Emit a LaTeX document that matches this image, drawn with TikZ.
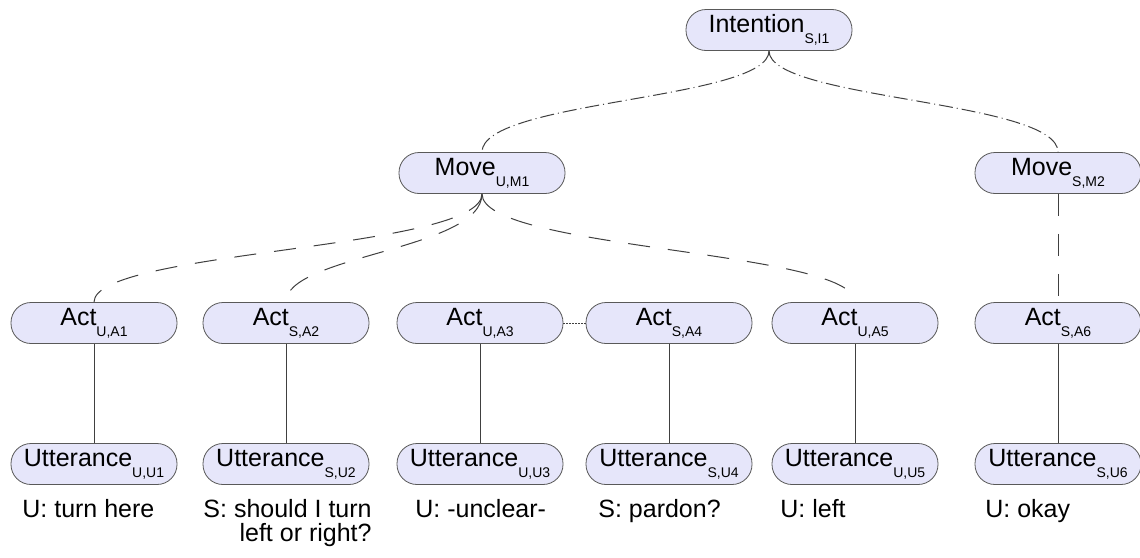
\documentclass[tikz,border=0pt]{standalone}
\usepackage{fontspec}
\setmainfont{Liberation Sans}
\usepackage{tikz}
\definecolor{lav}{RGB}{230,230,250}
\newcommand{\idx}[1]{\raisebox{-5.5pt}{\fontsize{7}{7}\selectfont #1}}

\begin{document}
\begin{tikzpicture}[x=0.5pt,y=-0.5pt,
  blob/.style={draw=black!65,fill=lav,rounded corners=10pt,minimum width=83pt,minimum height=20.5pt,inner sep=0pt,font=\fontsize{12.5}{14}\selectfont},
  talk/.style={anchor=north west,inner sep=0pt,font=\fontsize{12.5}{12}\selectfont},
  link/.style={draw=black!75,line width=0.5pt},
  ddot/.style={link,dash pattern=on 7pt off 2pt on 0.5pt off 2pt},
  lng/.style={link,dash pattern=on 11pt off 9pt}]
\useasboundingbox (0,0) rectangle (1140,557);
\node [blob] (i) at (769,30) {Intention\idx{S,I1}};
\node [blob] (m1) at (482,173) {Move\idx{U,M1}};
\node [blob] (m2) at (1058,173) {Move\idx{S,M2}};
\foreach \x/\s/\n in {94/U/1,286/S/2,480/U/3,669/S/4,855/U/5,1058/S/6} {
  \node [blob] (a\n) at (\x,323) {Act\idx{\s,A\n}};
  \node [blob] (u\n) at (\x,464) {Utterance\idx{\s,U\n}};
  \draw [link] (a\n) -- (u\n);
}
\draw [ddot] (i.south) .. controls (769,100) and (482,100) .. (m1.north);
\draw [ddot] (i.south) .. controls (769,100) and (1058,100) .. (m2.north);
\draw [lng] (m1.south) .. controls (482,250) and (94,250) .. (a1.north);
\draw [lng] (m1.south) .. controls (482,250) and (286,255) .. (a2.north);
\draw [lng] (m1.south) .. controls (482,250) and (855,250) .. (a5.north);
\draw [lng] (m2) -- (a6);
\draw [link,dash pattern=on 1pt off 0.5pt] (a3) -- (a4);
% what was said
\node [talk] (t1) at (22,499) {U: turn here};
\node [talk,anchor=north east,align=right] (t2) at (372,499) {S: should I turn\\left or right?};
\node [talk] (t3) at (415,499) {U: -unclear-};
\node [talk] (t4) at (598,499) {S: pardon?};
\node [talk] (t5) at (780,499) {U: left};
\node [talk] (t6) at (985,499) {U: okay};
\end{tikzpicture}
\end{document}
